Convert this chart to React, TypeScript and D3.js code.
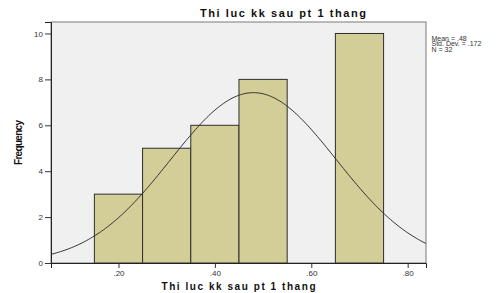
import React, { useEffect, useRef } from "react";
import * as d3 from "d3";

// histogram bins (lower edge, upper edge) and counts
const binStarts = [0.15, 0.25, 0.35, 0.45, 0.55, 0.65];
const binEnds = [0.25, 0.35, 0.45, 0.55, 0.65, 0.75];
const counts = [3, 5, 6, 8, 0, 10];

const xTicks = [0.2, 0.4, 0.6, 0.8];
const yTicks = [0, 2, 4, 6, 8, 10];

const stats = { mean: 0.48, sd: 0.172, n: 32 };
const legendLines = ["Mean = .48", "Std. Dev. = .172", "N = 32"];

const title = "Thi luc kk sau pt 1 thang";
const xLabel = "Thi luc kk sau pt 1 thang";
const yLabel = "Frequency";

const App = () => {
  const svgRef = useRef<SVGSVGElement>(null);

  useEffect(() => {
    const svg = d3.select(svgRef.current);
    svg.selectAll("*").remove();

    const width = 502;
    const height = 293;
    const margin = { top: 22, right: 76, bottom: 30, left: 51 };
    const innerW = width - margin.left - margin.right;
    const innerH = height - margin.top - margin.bottom;

    const x = d3.scaleLinear().domain([0.06, 0.838]).range([0, innerW]);
    const y = d3.scaleLinear().domain([0, 10.5]).range([innerH, 0]);

    const font = "Arial, 'Liberation Sans', sans-serif";

    const g = svg
      .append("g")
      .attr("transform", `translate(${margin.left},${margin.top})`);

    // plot background
    g.append("rect")
      .attr("width", innerW)
      .attr("height", innerH)
      .attr("fill", "#f0f0f0")
      .attr("stroke", "#7a7a7a")
      .attr("stroke-width", 1);

    // bars
    const bins = counts.map((c, i) => ({ x0: binStarts[i], x1: binEnds[i], c }));
    g.selectAll(".bar")
      .data(bins.filter((d) => d.c > 0))
      .enter()
      .append("rect")
      .attr("x", (d) => x(d.x0))
      .attr("y", (d) => y(d.c))
      .attr("width", (d) => x(d.x1) - x(d.x0))
      .attr("height", (d) => innerH - y(d.c))
      .attr("fill", "#d3ce97")
      .attr("stroke", "#2e2e2e")
      .attr("stroke-width", 1);

    // normal curve from mean / sd / N
    const binW = binEnds[0] - binStarts[0];
    const scaleK = (stats.n * binW) / (stats.sd * Math.sqrt(2 * Math.PI));
    const pts = d3.range(0, 201).map((i) => {
      const xv = 0.06 + ((0.838 - 0.06) * i) / 200;
      const z = (xv - stats.mean) / stats.sd;
      return [xv, scaleK * Math.exp(-0.5 * z * z)];
    });
    g.append("path")
      .datum(pts)
      .attr("fill", "none")
      .attr("stroke", "#333")
      .attr("stroke-width", 1)
      .attr(
        "d",
        d3
          .line<number[]>()
          .x((d) => x(d[0]))
          .y((d) => y(d[1]))
          .curve(d3.curveBasis)
      );

    // axes
    const yAxis = g
      .append("g")
      .call(
        d3
          .axisLeft(y)
          .tickValues(yTicks)
          .tickSize(6)
          .tickPadding(2)
          .tickFormat(d3.format("d"))
      );
    const xAxis = g
      .append("g")
      .attr("transform", `translate(0,${innerH})`)
      .call(
        d3
          .axisBottom(x)
          .tickValues(xTicks)
          .tickSize(5)
          .tickPadding(2)
          .tickFormat((d) => d3.format(".2f")(d as number).replace(/^0/, ""))
      );
    [yAxis, xAxis].forEach((ax) => {
      ax.select(".domain").attr("stroke", "#222");
      ax.selectAll(".tick line").attr("stroke", "#333");
      ax.selectAll(".tick text")
        .style("font-family", font)
        .style("font-size", "8px")
        .attr("fill", "#333");
    });

    // title
    svg
      .append("text")
      .attr("x", 283)
      .attr("y", 17)
      .attr("text-anchor", "middle")
      .attr("textLength", 166)
      .style("font-family", font)
      .style("font-weight", "bold")
      .style("font-size", "11px")
      .attr("fill", "#111")
      .text(title);

    // x label
    svg
      .append("text")
      .attr("x", 238.5)
      .attr("y", 290)
      .attr("text-anchor", "middle")
      .attr("textLength", 154)
      .style("font-family", font)
      .style("font-weight", "bold")
      .style("font-size", "10px")
      .attr("fill", "#111")
      .text(xLabel);

    // y label
    svg
      .append("text")
      .attr("transform", "translate(22,142.5) rotate(-90)")
      .attr("text-anchor", "middle")
      .attr("textLength", 45)
      .style("font-family", font)
      .style("font-weight", "bold")
      .style("font-size", "10px")
      .attr("fill", "#111")
      .text(yLabel);

    // legend
    svg
      .selectAll(".legend")
      .data(legendLines)
      .enter()
      .append("text")
      .attr("x", 431.5)
      .attr("y", (d, i) => 40.5 + i * 5.6)
      .style("font-family", font)
      .style("font-size", "7px")
      .attr("fill", "#333")
      .text((d) => d);
  }, []);

  return (
    <svg
      ref={svgRef}
      width={502}
      height={293}
      style={{ position: "absolute", left: 0, top: 0, background: "#fff" }}
    ></svg>
  );
};

export default App;
